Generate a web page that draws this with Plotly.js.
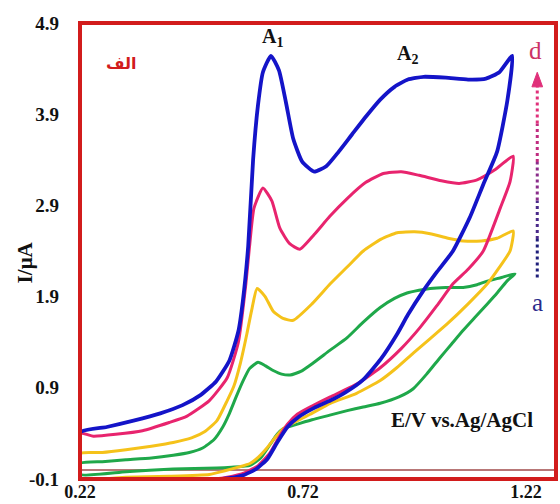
<!DOCTYPE html>
<html>
<head>
<meta charset="utf-8">
<script src="https://cdn.plot.ly/plotly-3.0.1.min.js"></script>
<style>html,body{margin:0;padding:0;background:#fff;}#chart{width:560px;height:504px;}</style>
</head>
<body>
<div id="chart"></div>
<script>
// Potential (V vs Ag/AgCl) and current (µA) for each CV loop
const blueE = [0.22,0.28,0.34,0.40,0.45,0.49,0.525,0.555,0.575,0.585,0.597,0.608,0.619,0.630,0.648,0.666,0.682,0.698,0.718,0.745,0.772,0.800,0.830,0.862,0.893,0.925,0.955,0.990,1.040,1.090,1.130,1.160,1.189,
               1.178,1.155,1.124,1.094,1.056,1.020,0.989,0.955,0.931,0.895,0.855,0.815,0.781,0.745,0.710,0.685,0.662,0.640,0.615,0.585,0.540,0.460,0.22,0.22];
const blueI = [0.41,0.47,0.54,0.62,0.71,0.82,0.97,1.20,1.52,1.85,2.45,3.40,4.00,4.36,4.54,4.38,4.02,3.63,3.38,3.27,3.33,3.49,3.68,3.88,4.06,4.20,4.28,4.31,4.30,4.28,4.29,4.36,4.54,
               4.05,3.49,3.13,2.77,2.40,2.17,1.96,1.70,1.49,1.22,0.99,0.85,0.76,0.68,0.58,0.47,0.30,0.12,0.01,-0.06,-0.10,-0.12,-0.12,0.41];

const pinkE = [0.22,0.25,0.30,0.36,0.42,0.46,0.51,0.55,0.575,0.592,0.600,0.610,0.630,0.650,0.668,0.690,0.713,0.745,0.780,0.820,0.860,0.900,0.940,0.980,1.030,1.070,1.110,1.150,1.191,
               1.184,1.162,1.124,1.090,1.056,1.020,0.982,0.940,0.893,0.840,0.781,0.740,0.707,0.685,0.665,0.645,0.620,0.590,0.550,0.490,0.22,0.22];
const pinkI = [0.40,0.37,0.39,0.43,0.52,0.59,0.76,1.01,1.40,2.05,2.45,2.87,3.09,2.95,2.65,2.48,2.42,2.58,2.78,2.98,3.15,3.25,3.27,3.23,3.17,3.14,3.18,3.29,3.44,
               3.16,2.87,2.40,2.20,2.04,1.80,1.56,1.33,1.12,0.94,0.80,0.70,0.61,0.50,0.35,0.18,0.05,-0.03,-0.08,-0.11,-0.11,0.40];

const yellowE = [0.22,0.27,0.323,0.38,0.429,0.47,0.50,0.527,0.550,0.565,0.580,0.594,0.606,0.617,0.635,0.653,0.675,0.698,0.740,0.781,0.820,0.855,0.895,0.931,0.970,1.005,1.045,1.079,1.120,1.155,1.191,
                 1.184,1.160,1.133,1.090,1.043,1.005,0.967,0.930,0.893,0.840,0.781,0.736,0.700,0.675,0.655,0.639,0.620,0.601,0.575,0.545,0.510,0.420,0.323,0.22,0.22];
const yellowI = [0.18,0.19,0.22,0.26,0.30,0.35,0.42,0.54,0.76,0.92,1.18,1.49,1.78,1.99,1.90,1.74,1.66,1.64,1.82,2.04,2.23,2.40,2.53,2.60,2.61,2.59,2.54,2.51,2.51,2.54,2.62,
                 2.40,2.22,2.04,1.82,1.60,1.44,1.28,1.12,0.98,0.84,0.73,0.61,0.52,0.45,0.34,0.24,0.14,0.07,0.03,-0.01,-0.05,-0.07,-0.08,-0.09,0.18];

const greenE = [0.22,0.27,0.323,0.38,0.429,0.465,0.495,0.520,0.540,0.555,0.570,0.585,0.600,0.619,0.636,0.653,0.672,0.691,0.715,0.742,0.780,0.819,0.855,0.893,0.925,0.953,0.980,1.005,1.040,1.079,1.110,1.133,1.165,1.195,
                1.177,1.155,1.133,1.105,1.079,1.053,1.027,0.997,0.967,0.935,0.893,0.855,0.819,0.780,0.740,0.700,0.675,0.662,0.645,0.625,0.601,0.560,0.527,0.429,0.323,0.22,0.22];
const greenI = [0.07,0.09,0.11,0.13,0.16,0.19,0.24,0.33,0.47,0.62,0.80,0.97,1.11,1.18,1.14,1.09,1.05,1.04,1.08,1.17,1.31,1.45,1.62,1.78,1.88,1.94,1.97,1.99,2.00,2.00,2.03,2.07,2.11,2.15,
                2.07,1.94,1.82,1.67,1.53,1.38,1.23,1.05,0.89,0.80,0.73,0.69,0.65,0.60,0.55,0.49,0.45,0.39,0.27,0.13,0.05,0.03,0.02,0.01,-0.02,-0.05,0.07];

const xTicks = [0.22, 0.72, 1.22];
const yTicks = [-0.1, 0.9, 1.9, 2.9, 3.9, 4.9];
const curveNames = ['a', 'b', 'c', 'd'];
const curveColors = ['#1fa84a', '#f5c21a', '#e8246e', '#1414c8'];

const serif = 'Liberation Serif, Times New Roman, serif';

function loop(E, I, color, name, w) {
  return {x: E, y: I, type: 'scatter', mode: 'lines', name: name,
          line: {color: color, width: w, shape: 'spline', smoothing: 0.5, simplify: false},
          hoverinfo: 'skip'};
}

const data = [
  loop(greenE, greenI, curveColors[0], curveNames[0], 3),
  loop(yellowE, yellowI, curveColors[1], curveNames[1], 3),
  loop(pinkE, pinkI, curveColors[2], curveNames[2], 3),
  loop(blueE, blueI, curveColors[3], curveNames[3], 3.8)
];

const arrowX = 1.245;
const arrowCols = ['#1e1e7a', '#4a2a8a', '#8a2c8a', '#c02c80', '#e0307a'];
const shapes = [
  {type: 'line', xref: 'paper', yref: 'y', x0: 0, x1: 1, y0: 0, y1: 0,
   line: {color: '#a04a4a', width: 1.5}, layer: 'below'},
  {type: 'rect', xref: 'paper', yref: 'paper', x0: 0, x1: 1, y0: 0, y1: 1,
   line: {color: '#d21c1c', width: 4}, layer: 'above'}
];
const yStart = 2.11, yEnd = 4.22;
for (let k = 0; k < arrowCols.length; k++) {
  const a = yStart + (yEnd - yStart) * k / arrowCols.length;
  const b = yStart + (yEnd - yStart) * (k + 1) / arrowCols.length;
  shapes.push({type: 'line', x0: arrowX, x1: arrowX, y0: a, y1: b,
               line: {color: arrowCols[k], width: 3, dash: 'dot'}});
}
shapes.push({type: 'path', path: `M ${arrowX-0.012} 4.20 L ${arrowX+0.012} 4.20 L ${arrowX} 4.36 Z`,
             fillcolor: '#e0307a', line: {color: '#e0307a', width: 1}});

const annotations = [
  {x: 0.6505, y: 4.74, text: 'A<sub>1</sub>', showarrow: false,
   font: {family: serif, size: 20, color: '#111', weight: 'bold'}},
  {x: 0.955, y: 4.55, text: 'A<sub>2</sub>', showarrow: false,
   font: {family: serif, size: 20, color: '#111', weight: 'bold'}},
  {x: 1.242, y: 4.60, text: 'd', showarrow: false,
   font: {family: serif, size: 25, color: '#cc3366'}},
  {x: 1.245, y: 1.83, text: 'a', showarrow: false,
   font: {family: serif, size: 25, color: '#2a2a8a'}},
  {x: 0.314, y: 4.46, text: 'الف', showarrow: false,
   font: {family: 'DejaVu Sans, Noto Sans, sans-serif', size: 16, color: '#d21c1c', weight: 'bold'}},
  {x: 0.912, y: 0.55, xanchor: 'left', text: 'E/V vs.Ag/AgCl', showarrow: false,
   font: {family: serif, size: 21, color: '#111', weight: 'bold'}},
  {xref: 'paper', yref: 'paper', x: -0.145, y: 0.475, text: 'I/μA', textangle: -90, showarrow: false,
   font: {family: serif, size: 21, color: '#111', weight: 'bold'}}
];

const layout = {
  width: 560, height: 504,
  margin: {l: 80, r: 4, t: 23, b: 25, pad: 0},
  paper_bgcolor: '#ffffff', plot_bgcolor: '#ffffff',
  showlegend: false,
  xaxis: {range: [0.22, 1.287], tickvals: xTicks, ticktext: xTicks.map(v => v.toFixed(2)),
          showgrid: false, zeroline: false, showline: false, ticks: '',
          ticklabelstandoff: 0,
          tickfont: {family: serif, size: 18, color: '#111', weight: 'bold'}},
  yaxis: {range: [-0.1, 4.9], tickvals: yTicks, ticktext: yTicks.map(v => v.toFixed(1)),
          showgrid: false, zeroline: false, showline: false, ticks: '',
          ticklabelstandoff: 20,
          tickfont: {family: serif, size: 19, color: '#111', weight: 'bold'}},
  shapes: shapes,
  annotations: annotations
};

Plotly.newPlot('chart', data, layout, {staticPlot: true});
</script>
</body>
</html>
